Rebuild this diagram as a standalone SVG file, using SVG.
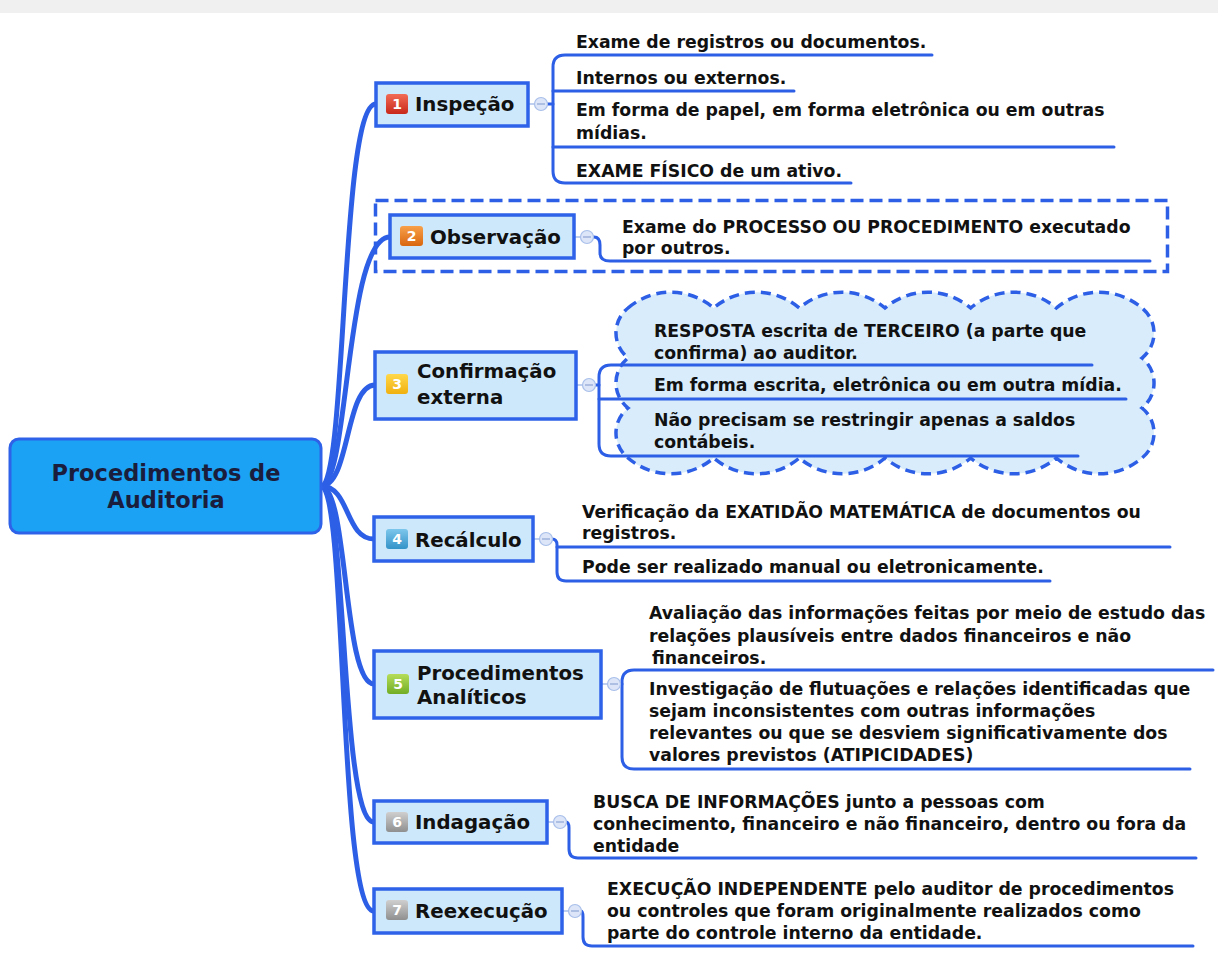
<svg xmlns="http://www.w3.org/2000/svg" width="1218" height="961" viewBox="0 0 1218 961">
<defs>
<style>
.bg{fill:#ffffff}
.band{fill:#f0f0f0}
.trunk{fill:none;stroke:#2d5fe6;stroke-linecap:round;stroke-width:5}
.node{fill:#cde8fa;stroke:#2e62e8;stroke-width:3.5}
.central{fill:#1ba2f5;stroke:#2e62e8;stroke-width:3}
.ctext{font-family:"DejaVu Sans",sans-serif;font-weight:bold;font-size:22.5px;fill:#1b1d3c;text-anchor:middle}
.ntext{font-family:"DejaVu Sans",sans-serif;font-weight:bold;font-size:19.8px;fill:#111}
.stext{font-family:"DejaVu Sans",sans-serif;font-weight:bold;font-size:17.3px;fill:#111}
.itext{font-family:"DejaVu Sans",sans-serif;font-weight:bold;font-size:14px;fill:#fff;text-anchor:middle}
.line{fill:none;stroke:#2d5fe6;stroke-width:3;stroke-linecap:round}
.faint{fill:none;stroke:#a9bfea;stroke-width:1.5}
.knob{fill:#dce6f8;stroke:#a9bfea;stroke-width:1.2}
.minus{stroke:#8ea4d4;stroke-width:1.2}
.dash{fill:none;stroke:#2d5fe6;stroke-width:3.5;stroke-dasharray:13 6}
.cloud{fill:#d8ecfb;stroke:#2d5fe6;stroke-width:3.5;stroke-dasharray:10 6}
</style>
<linearGradient id="g1" x1="0" y1="0" x2="0" y2="1"><stop offset="0" stop-color="#f26b55"/><stop offset="1" stop-color="#c8281a"/></linearGradient>
<linearGradient id="g2" x1="0" y1="0" x2="0" y2="1"><stop offset="0" stop-color="#f7a04a"/><stop offset="1" stop-color="#d9670f"/></linearGradient>
<linearGradient id="g3" x1="0" y1="0" x2="0" y2="1"><stop offset="0" stop-color="#ffd84a"/><stop offset="1" stop-color="#f0b010"/></linearGradient>
<linearGradient id="g4" x1="0" y1="0" x2="0" y2="1"><stop offset="0" stop-color="#7cc6ec"/><stop offset="1" stop-color="#3493c8"/></linearGradient>
<linearGradient id="g5" x1="0" y1="0" x2="0" y2="1"><stop offset="0" stop-color="#b5dd5a"/><stop offset="1" stop-color="#72ad25"/></linearGradient>
<linearGradient id="g6" x1="0" y1="0" x2="0" y2="1"><stop offset="0" stop-color="#cfcfcf"/><stop offset="1" stop-color="#8f8f8f"/></linearGradient>
</defs>
<rect class="bg" x="0" y="0" width="1218" height="961"/>
<rect class="band" x="0" y="0" width="1218" height="13"/>

<g id="frames">
<rect class="dash" x="375.5" y="200.5" width="792" height="71"/>
<path class="cloud" d="M628,308 A66,66 0 0 1 713.67,308 A66,66 0 0 1 799.33,308 A66,66 0 0 1 885,308 A66,66 0 0 1 970.67,308 A66,66 0 0 1 1056.33,308 A66,66 0 0 1 1142,308 A32,32 0 0 1 1142,358 A32,32 0 0 1 1142,408 A32,32 0 0 1 1142,458 A66,66 0 0 1 1056.33,458 A66,66 0 0 1 970.67,458 A66,66 0 0 1 885,458 A66,66 0 0 1 799.33,458 A66,66 0 0 1 713.67,458 A66,66 0 0 1 628,458 A32,32 0 0 1 628,408 A32,32 0 0 1 628,358 A32,32 0 0 1 628,308 Z"/>
</g>

<g id="connectors">
<g id="trunk">
<path class="trunk" d="M321,486 C347,486 340,104 376,104"/>
<path class="trunk" d="M321,486 C349,486 345,237 390,237"/>
<path class="trunk" d="M321,486 C350,486 345,385 375,385"/>
<path class="trunk" d="M321,486 C350,486 345,539 374,539"/>
<path class="trunk" d="M321,486 C348,486 343,684 374,684"/>
<path class="trunk" d="M321,486 C347,486 340,822 374,822"/>
<path class="trunk" d="M321,486 C347,486 338,911 374,911"/>
</g>
<g id="sub-inspecao">
<path class="faint" d="M528,104 H535"/>
<path class="line" d="M547,104 H553"/>
<path class="line" d="M932,55 H565 Q553,55 553,67 V171 Q553,183 565,183 H851"/>
<path class="line" d="M553,91 H794"/>
<path class="line" d="M553,147 H1114"/>
</g>
<g id="sub-observacao">
<path class="faint" d="M574,237 H581"/>
<path class="line" d="M593,237 H594 Q600,237 600,245 V253 Q600,261 610,261 H1150"/>
</g>
<g id="sub-confirmacao">
<path class="faint" d="M576,385 H583"/>
<path class="line" d="M595,385 H599"/>
<path class="line" d="M1092,365 H611 Q599,365 599,377 V444 Q599,456 611,456 H1078"/>
<path class="line" d="M599,399 H1126"/>
</g>
<g id="sub-recalculo">
<path class="faint" d="M533,539 H540"/>
<path class="line" d="M552,539 H552 Q557,539 557,545 V572 Q557,581 566,581 H1050"/>
<path class="line" d="M557,547 H1170"/>
</g>
<g id="sub-analiticos">
<path class="faint" d="M601,684 H608"/>
<path class="line" d="M620,684 H622"/>
<path class="line" d="M1213,670 H634 Q622,670 622,682 V757 Q622,769 634,769 H1190"/>
</g>
<g id="sub-indagacao">
<path class="faint" d="M547,822 H554"/>
<path class="line" d="M566,822 Q569,822 569,828 V849 Q569,858 578,858 H1196"/>
</g>
<g id="sub-reexecucao">
<path class="faint" d="M562,911 H569"/>
<path class="line" d="M581,911 Q583,911 583,917 V937 Q583,946 592,946 H1193"/>
</g>
</g>

<g id="central">
<rect class="central" x="10" y="439" width="311" height="94" rx="9"/>
<text class="ctext" x="166" y="481">Procedimentos de</text>
<text class="ctext" x="166" y="508">Auditoria</text>
</g>

<g id="n1">
<rect class="node" x="376" y="83" width="152" height="43"/>
<rect x="386" y="94" width="22" height="20" rx="3" fill="url(#g1)"/>
<text class="itext" x="397" y="109">1</text>
<text class="ntext" x="415" y="111">Inspeção</text>
<circle class="knob" cx="541" cy="104" r="6.5"/><path class="minus" d="M537,104 H545"/>
</g>
<g id="n1-children">
<text class="stext" x="576" y="48">Exame de registros ou documentos.</text>
<text class="stext" x="576" y="84">Internos ou externos.</text>
<text class="stext" x="576" y="116">Em forma de papel, em forma eletrônica ou em outras</text>
<text class="stext" x="576" y="139">mídias.</text>
<text class="stext" x="576" y="177">EXAME FÍSICO de um ativo.</text>
</g>

<g id="n2">
<rect class="node" x="390" y="215" width="184" height="43"/>
<rect x="400" y="226" width="23" height="20" rx="3" fill="url(#g2)"/>
<text class="itext" x="411.5" y="241">2</text>
<text class="ntext" x="430" y="244">Observação</text>
<circle class="knob" cx="587" cy="237" r="6.5"/><path class="minus" d="M583,237 H591"/>
</g>
<g id="n2-children">
<text class="stext" x="622" y="233">Exame do PROCESSO OU PROCEDIMENTO executado</text>
<text class="stext" x="622" y="254">por outros.</text>
</g>

<g id="n3">
<rect class="node" x="375" y="352" width="201" height="67"/>
<rect x="386" y="374" width="22" height="20" rx="3" fill="url(#g3)"/>
<text class="itext" x="397" y="389">3</text>
<text class="ntext" x="417" y="378">Confirmação</text>
<text class="ntext" x="417" y="404">externa</text>
<circle class="knob" cx="589" cy="385" r="6.5"/><path class="minus" d="M585,385 H593"/>
</g>
<g id="n3-children">
<text class="stext" x="654" y="337">RESPOSTA escrita de TERCEIRO (a parte que</text>
<text class="stext" x="654" y="359">confirma) ao auditor.</text>
<text class="stext" x="654" y="391">Em forma escrita, eletrônica ou em outra mídia.</text>
<text class="stext" x="654" y="426">Não precisam se restringir apenas a saldos</text>
<text class="stext" x="654" y="448">contábeis.</text>
</g>

<g id="n4">
<rect class="node" x="374" y="517" width="159" height="44"/>
<rect x="386" y="529" width="22" height="20" rx="3" fill="url(#g4)"/>
<text class="itext" x="397" y="544">4</text>
<text class="ntext" x="415" y="547">Recálculo</text>
<circle class="knob" cx="546" cy="539" r="6.5"/><path class="minus" d="M542,539 H550"/>
</g>
<g id="n4-children">
<text class="stext" x="582" y="518">Verificação da EXATIDÃO MATEMÁTICA de documentos ou</text>
<text class="stext" x="582" y="539">registros.</text>
<text class="stext" x="582" y="573">Pode ser realizado manual ou eletronicamente.</text>
</g>

<g id="n5">
<rect class="node" x="374" y="651" width="227" height="67"/>
<rect x="387" y="674" width="22" height="20" rx="3" fill="url(#g5)"/>
<text class="itext" x="398" y="689">5</text>
<text class="ntext" x="417" y="680">Procedimentos</text>
<text class="ntext" x="417" y="704">Analíticos</text>
<circle class="knob" cx="614" cy="684" r="6.5"/><path class="minus" d="M610,684 H618"/>
</g>
<g id="n5-children">
<text class="stext" x="649" y="619">Avaliação das informações feitas por meio de estudo das</text>
<text class="stext" x="649" y="642">relações plausíveis entre dados financeiros e não</text>
<text class="stext" x="652" y="664">financeiros.</text>
<text class="stext" x="649" y="695">Investigação de flutuações e relações identificadas que</text>
<text class="stext" x="649" y="717">sejam inconsistentes com outras informações</text>
<text class="stext" x="649" y="739">relevantes ou que se desviem significativamente dos</text>
<text class="stext" x="649" y="761">valores previstos (ATIPICIDADES)</text>
</g>

<g id="n6">
<rect class="node" x="374" y="801" width="173" height="42"/>
<rect x="386" y="812" width="22" height="20" rx="3" fill="url(#g6)"/>
<text class="itext" x="397" y="827">6</text>
<text class="ntext" x="415" y="829">Indagação</text>
<circle class="knob" cx="560" cy="822" r="6.5"/><path class="minus" d="M556,822 H564"/>
</g>
<g id="n6-children">
<text class="stext" x="593" y="808">BUSCA DE INFORMAÇÕES junto a pessoas com</text>
<text class="stext" x="593" y="830">conhecimento, financeiro e não financeiro, dentro ou fora da</text>
<text class="stext" x="593" y="852">entidade</text>
</g>

<g id="n7">
<rect class="node" x="374" y="889" width="188" height="44"/>
<rect x="386" y="900" width="22" height="20" rx="3" fill="url(#g6)"/>
<text class="itext" x="397" y="915">7</text>
<text class="ntext" x="415" y="918">Reexecução</text>
<circle class="knob" cx="575" cy="911" r="6.5"/><path class="minus" d="M571,911 H579"/>
</g>
<g id="n7-children">
<text class="stext" x="607" y="895">EXECUÇÃO INDEPENDENTE pelo auditor de procedimentos</text>
<text class="stext" x="607" y="917">ou controles que foram originalmente realizados como</text>
<text class="stext" x="607" y="939">parte do controle interno da entidade.</text>
</g>
</svg>
